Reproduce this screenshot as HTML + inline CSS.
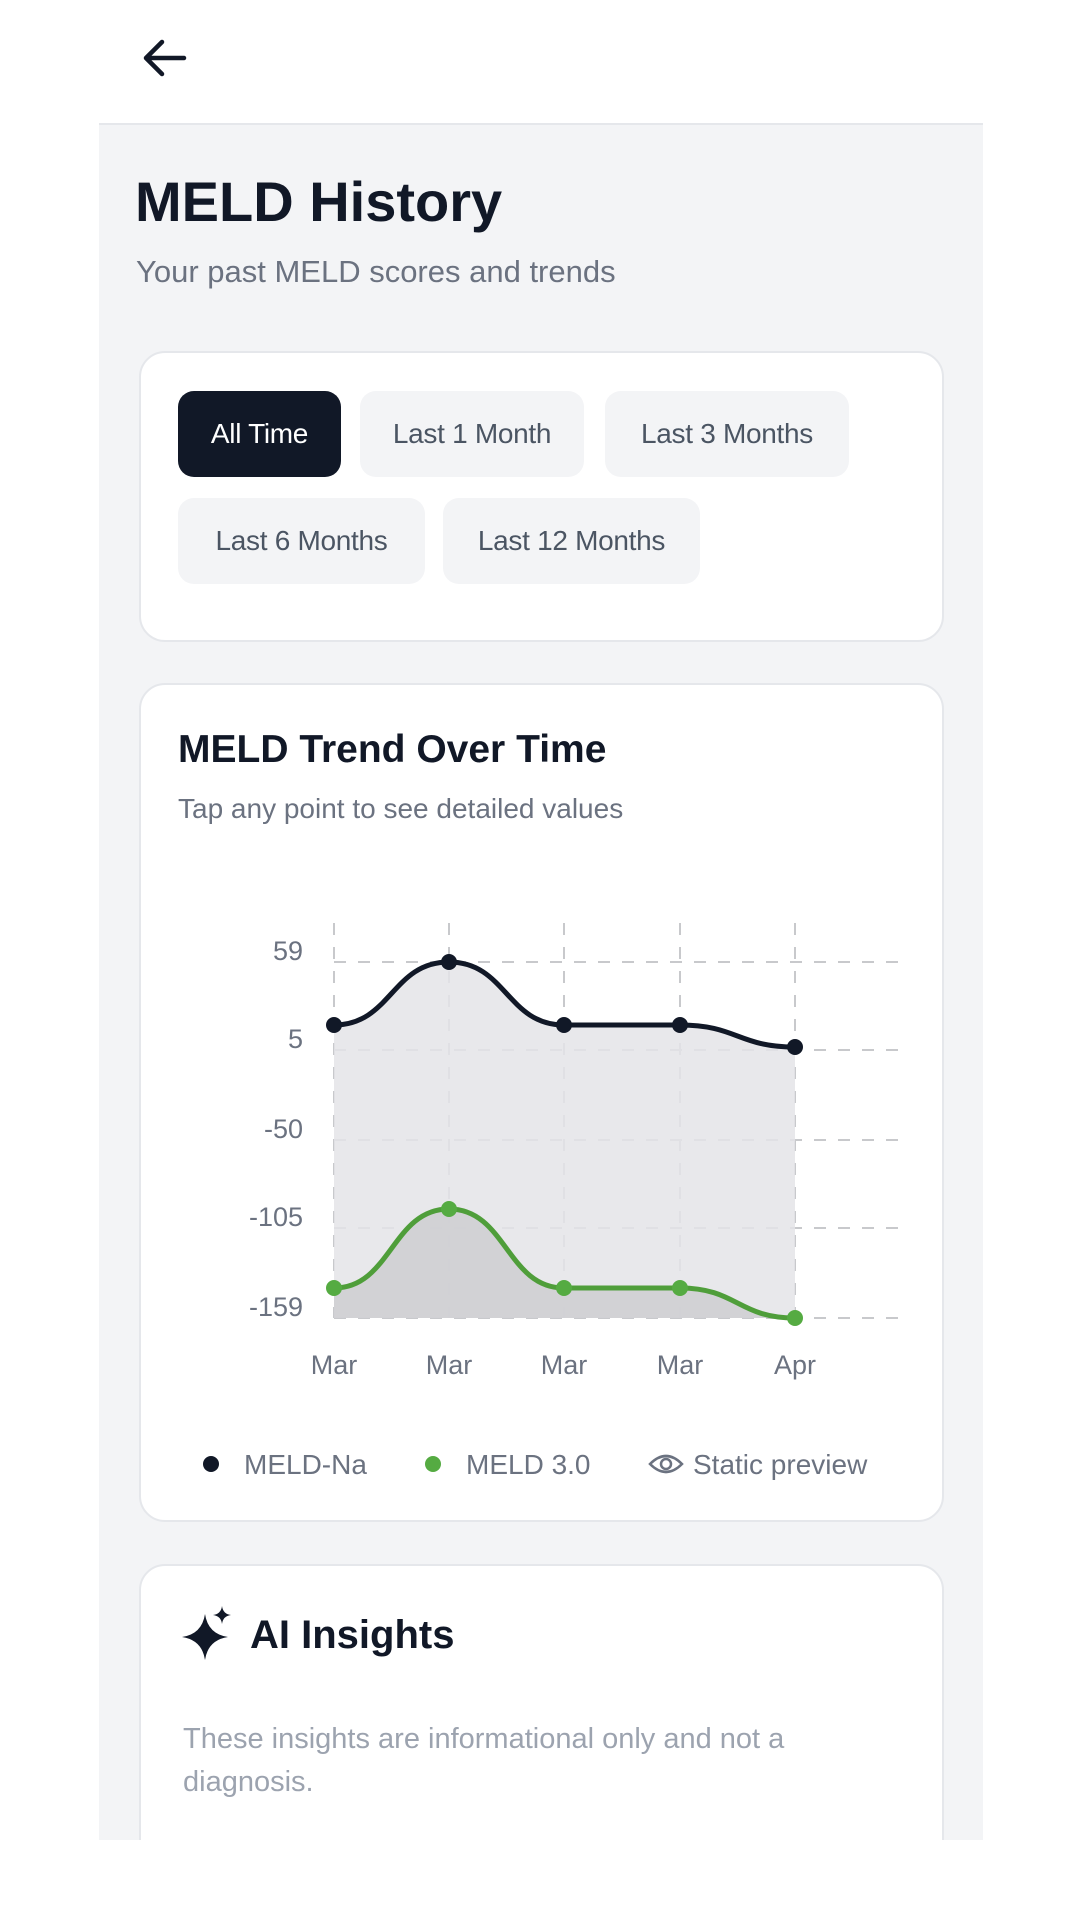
<!DOCTYPE html>
<html><head><meta charset="utf-8"><style>
*{margin:0;padding:0;box-sizing:border-box}
body{width:1080px;height:1920px;background:#fff;font-family:"Liberation Sans",sans-serif;position:relative;overflow:hidden;color:#111827}
.panel{position:absolute;left:99px;top:123px;width:884px;height:1717px;background:#f3f4f6;border-top:2px solid #e5e7eb}
.card{position:absolute;left:139px;width:805px;background:#fff;border:2px solid #e5e7eb;border-radius:26px}
.btn{position:absolute;height:86px;border-radius:16px;background:#f3f4f6;color:#4b5563;font-size:28px;display:flex;align-items:center;justify-content:center;letter-spacing:-0.3px}
.abs{position:absolute;white-space:nowrap}
</style></head><body>
<svg class="abs" style="left:140px;top:36px" width="50" height="44" viewBox="0 0 50 44"><path d="M44 22H6M22 6L6 22L22 38" stroke="#111827" stroke-width="4.5" fill="none" stroke-linecap="round" stroke-linejoin="round"/></svg>
<div class="panel"></div>
<div class="abs" style="left:135px;top:169px;font-size:56px;font-weight:bold">MELD History</div>
<div class="abs" style="left:136px;top:254px;font-size:31px;color:#6b7280">Your past MELD scores and trends</div>

<div class="card" style="top:351px;height:291px"></div>
<div class="btn" style="left:178px;top:391px;width:163px;background:#111827;color:#fff">All Time</div>
<div class="btn" style="left:360px;top:391px;width:224px">Last 1 Month</div>
<div class="btn" style="left:605px;top:391px;width:244px">Last 3 Months</div>
<div class="btn" style="left:178px;top:498px;width:247px">Last 6 Months</div>
<div class="btn" style="left:443px;top:498px;width:257px">Last 12 Months</div>

<div class="card" style="top:683px;height:839px"></div>
<div class="card" style="top:1564px;height:330px"></div>
<div class="abs" style="left:178px;top:728px;font-size:39px;font-weight:bold">MELD Trend Over Time</div>
<div class="abs" style="left:178px;top:793px;font-size:28px;color:#6b7280">Tap any point to see detailed values</div>

<svg class="abs" style="left:0;top:0" width="1080" height="1920">
<g stroke="#c8c9cc" stroke-width="2" stroke-dasharray="12 12">
<line x1="334" y1="962" x2="901" y2="962"/><line x1="334" y1="1050" x2="901" y2="1050"/><line x1="334" y1="1140" x2="901" y2="1140"/><line x1="334" y1="1228" x2="901" y2="1228"/><line x1="334" y1="1318" x2="901" y2="1318"/>
<line x1="334" y1="923" x2="334" y2="1318"/><line x1="449" y1="923" x2="449" y2="1318"/><line x1="564" y1="923" x2="564" y2="1318"/><line x1="680" y1="923" x2="680" y2="1318"/><line x1="795" y1="923" x2="795" y2="1318"/>
</g>
<path d="M334,1025 C391,1025 392,962 449,962 C506,962 507,1025 564,1025 L680,1025 C737,1025 738,1047 795,1047 L795,1318 L334,1318Z" fill="#e4e4e7" fill-opacity="0.85"/>
<path d="M334,1288 C391,1288 392,1209 449,1209 C506,1209 507,1288 564,1288 L680,1288 C737,1288 738,1318 795,1318 L334,1318Z" fill="#cfcfd3" fill-opacity="0.9"/>
<path d="M334,1025 C391,1025 392,962 449,962 C506,962 507,1025 564,1025 L680,1025 C737,1025 738,1047 795,1047" fill="none" stroke="#111827" stroke-width="5"/>
<path d="M334,1288 C391,1288 392,1209 449,1209 C506,1209 507,1288 564,1288 L680,1288 C737,1288 738,1318 795,1318" fill="none" stroke="#4f9e3a" stroke-width="5"/>
<g fill="#111827"><circle cx="334" cy="1025" r="8"/><circle cx="449" cy="962" r="8"/><circle cx="564" cy="1025" r="8"/><circle cx="680" cy="1025" r="8"/><circle cx="795" cy="1047" r="8"/></g>
<g fill="#55ab42"><circle cx="334" cy="1288" r="8"/><circle cx="449" cy="1209" r="8"/><circle cx="564" cy="1288" r="8"/><circle cx="680" cy="1288" r="8"/><circle cx="795" cy="1318" r="8"/></g>
<g font-family="Liberation Sans,sans-serif" font-size="27" fill="#6b7280" text-anchor="end">
<text x="303" y="960">59</text><text x="303" y="1048">5</text><text x="303" y="1138">-50</text><text x="303" y="1226">-105</text><text x="303" y="1316">-159</text></g>
<g font-family="Liberation Sans,sans-serif" font-size="27" fill="#6b7280" text-anchor="middle">
<text x="334" y="1374">Mar</text><text x="449" y="1374">Mar</text><text x="564" y="1374">Mar</text><text x="680" y="1374">Mar</text><text x="795" y="1374">Apr</text></g>
<circle cx="211" cy="1464" r="8" fill="#111827"/><circle cx="433" cy="1464" r="8" fill="#55ab42"/>
<g fill="none" stroke="#6b7280" stroke-width="2.5"><path d="M650,1464 Q666,1448 682,1464 Q666,1480 650,1464Z"/><circle cx="666" cy="1464" r="5"/></g>
<g font-family="Liberation Sans,sans-serif" font-size="28" fill="#6b7280">
<text x="244" y="1474">MELD-Na</text><text x="466" y="1474">MELD 3.0</text><text x="693" y="1474">Static preview</text></g>
<path d="M205,1614 Q208,1634 228,1637 Q208,1640 205,1660 Q202,1640 182,1637 Q202,1634 205,1614Z" fill="#111827"/>
<path d="M222,1606 Q223,1614 231,1615 Q223,1616 222,1624 Q221,1616 213,1615 Q221,1614 222,1606Z" fill="#111827"/>
</svg>

<div class="abs" style="left:250px;top:1613px;font-size:40px;font-weight:bold">AI Insights</div>
<div class="abs" style="left:183px;top:1718px;font-size:29px;color:#9ca3af;line-height:43px">These insights are informational only and not a<br>diagnosis.</div>
<div class="abs" style="left:0;top:1840px;width:1080px;height:80px;background:#fff"></div>
</body></html>
